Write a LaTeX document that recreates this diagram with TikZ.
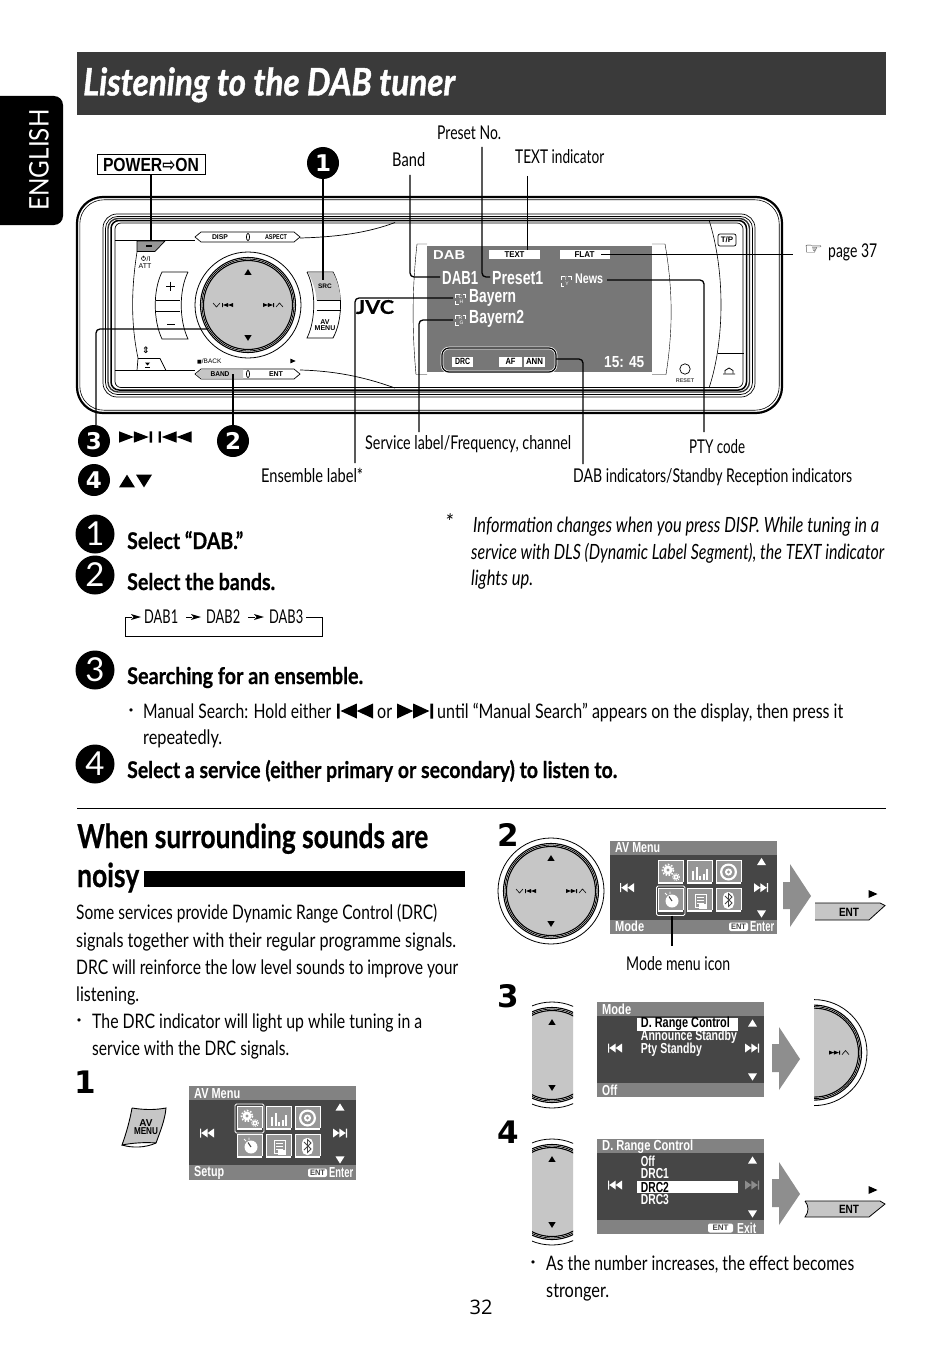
\documentclass[tikz,border=0pt]{standalone}
\usepackage{fontspec}
\usepackage{graphicx}
\setmainfont{Lato}
\newfontfamily\dsp{Liberation Sans}
\newfontfamily\sym{DejaVu Sans}
\newfontfamily\pg{Open Sans}
\newfontfamily\hv[BoldFeatures={FakeBold=0.7},BoldItalicFeatures={FakeBold=1.2}]{Lato}
\definecolor{band}{HTML}{3A3A3A}
\definecolor{scrdark}{HTML}{464646}
\definecolor{scrgray}{HTML}{828282}
\definecolor{dispgray}{HTML}{777777}
\definecolor{btn}{HTML}{C6C6C6}
\definecolor{bigarrow}{HTML}{8E8E8E}
\definecolor{icong}{HTML}{969696}
\newcommand\W[2]{\resizebox{#1pt}{\height}{#2}}
\newcommand\fs[1]{\fontsize{#1}{#1}\selectfont}
\newcommand\tup[4]{\fill[#4] ({#1-#3},{#2+0.8*#3})--({#1+#3},{#2+0.8*#3})--(#1,{#2-0.8*#3})--cycle;}
\newcommand\tdn[4]{\fill[#4] ({#1-#3},{#2-0.8*#3})--({#1+#3},{#2-0.8*#3})--(#1,{#2+0.8*#3})--cycle;}
\newcommand\trt[4]{\fill[#4] ({#1-0.9*#3},{#2-0.8*#3})--({#1+0.9*#3},#2)--({#1-0.9*#3},{#2+0.8*#3})--cycle;}
\newcommand\skipf[5]{\fill[#5] ({#1-#3},{#2-#4})--({#1-0.1*#3},#2)--({#1-#3},{#2+#4})--cycle ({#1-0.1*#3},{#2-#4})--({#1+0.8*#3},#2)--({#1-0.1*#3},{#2+#4})--cycle ({#1+0.85*#3},{#2-#4}) rectangle ({#1+#3},{#2+#4});}
\newcommand\skipb[5]{\fill[#5] ({#1+#3},{#2-#4})--({#1+0.1*#3},#2)--({#1+#3},{#2+#4})--cycle ({#1+0.1*#3},{#2-#4})--({#1-0.8*#3},#2)--({#1+0.1*#3},{#2+#4})--cycle ({#1-0.85*#3},{#2-#4}) rectangle ({#1-#3},{#2+#4});}
% dial parts: centre x, centre y
\newcommand\dialbase[2]{%
\draw[line width=.8,fill=white] (#1,#2) circle (53);
\draw[line width=1.1] (#1,#2) circle (47.5);
\draw[line width=.8] (#1,#2) circle (46);
\draw[line width=1.1,fill=btn] (#1,#2) circle (44.5);
}
\newcommand\dialud[2]{\tup{#1}{#2-33}{3.6}{black}\tdn{#1}{#2+33}{3.6}{black}}
\newcommand\diall[2]{\skipb{#1-20.5}{#2}{5.5}{2}{black}\draw[line width=.6] ({#1-35},{#2-2})--({#1-31.5},{#2+2})--({#1-28},{#2-2});}
\newcommand\dialr[2]{\skipf{#1+20.5}{#2}{5.5}{2}{black}\draw[line width=.6] ({#1+28},{#2+2})--({#1+31.5},{#2-2})--({#1+35},{#2+2});}
\newcommand\dial[2]{\dialbase{#1}{#2}\dialud{#1}{#2}\diall{#1}{#2}\dialr{#1}{#2}}
\newcommand\screen[4]{%
\fill[scrdark] (#1,#2) rectangle ++(167,#3);
\fill[scrgray] (#1,#2) rectangle ++(167,14);
\fill[scrgray] (#1,{#2+#4}) rectangle ({#1+167},{#2+#3});
}
% one icon tile
\newcommand\tile[2]{%
\fill[icong] (#1,#2) rectangle ++(25,24);
\fill[white] (#1,{#2+22.4}) rectangle ++(25,1.6);
\draw[white,line width=.5] (#1,{#2+22}) -- (#1,#2) -- ++(25,0) -- ++(0,22);
}
% icon grid: x y of screen
\newcommand\menuicons[2]{%
\begin{scope}[shift={(#1,#2)}]
\tile{48}{19}\tile{77}{19}\tile{106}{19}\tile{48}{47}\tile{77}{47}\tile{106}{47}
% gears
\fill[white] (58,29) circle (4.5); \draw[white,line width=1.6,dash pattern=on 1.6 off 1.6] (58,29) circle (5.6);
\fill[icong] (58,29) circle (1.6);
\fill[white] (66,36) circle (2.6); \draw[white,line width=1,dash pattern=on 1 off 1] (66,36) circle (3.4);
\fill[icong] (66,36) circle (1);
% eq
\fill[white] (82,30) rectangle ++(2,9); \fill[white] (85.5,26) rectangle ++(2,13);
\fill[white] (89,35) rectangle ++(2,4); \fill[white] (92.5,33) rectangle ++(2,6);
\fill[white] (96,28) rectangle ++(2,11);
% disc
\fill[white] (118.5,31) circle (8.5); \fill[icong] (118.5,31) circle (6.2);
\fill[white] (118.5,31) circle (3.6); \fill[icong] (118.5,31) circle (1.6);
% stopwatch
\fill[white] (62,60) circle (6.5); \draw[white,line width=.8] (55,52)--(57,54) (60,50.5)--(60,53);
\draw[scrdark,line width=1] (62,60)--(59,55.5);
% doc
\draw[white,line width=1] (85,53) rectangle ++(11,13);
\draw[white,line width=.7] (87,56)--(94,56) (87,59)--(94,59) (87,62)--(94,62);
\fill[white] (89,63) rectangle ++(8,5);
% bluetooth
\fill[white,rounded corners=5] (113,51) rectangle ++(11,17);
\draw[scrdark,line width=.8] (115,55)--(122,62)--(118.5,65.5)--(118.5,52.5)--(122,56)--(115,63);
\end{scope}}
\tikzset{
 txt/.style={inner sep=0pt,anchor=base west,yshift=-7pt,font=\fs{20}},
 blt/.style={inner sep=0pt,anchor=center,font=\sym\fs{11}},
 lab/.style={inner sep=0pt,anchor=base west,yshift=-6.5pt,font=\fs{19}},
 head/.style={inner sep=0pt,anchor=base west,yshift=-8pt,font=\hv\bfseries\fs{23}},
 ital/.style={inner sep=0pt,anchor=base west,yshift=-7pt,font=\itshape\fs{21}},
 bigt/.style={inner sep=0pt,anchor=base west,yshift=-11pt,font=\hv\bfseries\fs{33}},
 num/.style={circle,fill=black,text=white,minimum size=32pt,inner sep=0pt,font=\sym\bfseries\fs{23}},
 stepn/.style={circle,fill=black,text=white,minimum size=39pt,inner sep=0pt,font=\fs{33}},
 bign/.style={inner sep=0pt,font=\sym\bfseries\fs{31}},
 conn/.style={line width=1.3pt,rounded corners=4pt},
 scr/.style={inner sep=0pt,anchor=west,text=white,font=\dsp\bfseries\fs{14.5}},
 dtx/.style={inner sep=0pt,anchor=west,text=white,font=\dsp\bfseries\fs{19}},
 ctl/.style={inner sep=0pt,font=\dsp\bfseries\fs{7}},
 lit/.style={inner sep=0pt,font=\dsp\bfseries\fs{6.5}},
 frame/.style={line width=.7pt},
}
\newcommand\brk[4]{%
\draw[white,line width=.5] ({#1-5},{#2-1})--({#1-5},{#2-5})--({#1-1},{#2-5}) ({#1+2},{#2-5})--({#1+5},{#2-5})--({#1+5},{#2-1}) ({#1-5},{#2+2})--({#1-5},{#2+5})--({#1-2},{#2+5});
\node[lit,text=white,font=\dsp\fs{5}] (#3-a) at (#1,{#2-2}) {#3};
\node[lit,text=white,font=\dsp\fs{5}] (#3-b) at ({#1+1},{#2+3}) {#4};
}
\begin{document}
\begin{tikzpicture}[x=1pt,y=-1pt]
\useasboundingbox (0,0) rectangle (950,1351);
\fill[white] (0,0) rectangle (950,1351);
% side tab & title
\fill[black,rounded corners=9] (-20,96) rectangle (63,225);
\node[inner sep=0pt,text=white,rotate=90,font=\fs{27}] (tab) at (39,160) {\W{101}{ENGLISH}};
\fill[band] (77,52) rectangle (886,115);
\node[inner sep=0pt,anchor=base west,text=white,font=\hv\bfseries\itshape\fs{38}] (title) at (83,95.5) {\W{372}{Listening to the DAB tuner}};
% head unit
\draw[line width=2.2,rounded corners=26] (77,197) rectangle (782,413);
\draw[line width=.6,rounded corners=24] (79.8,199.8) rectangle (779.2,410.2);
\draw[frame,rounded corners=14] (103,214) rectangle (755,397);
\draw[frame,rounded corners=12] (105.5,216.5) rectangle (752.5,394.5);
\draw[line width=1.4,rounded corners=10,draw=black!80] (108,218.5) rectangle (749.5,392);
\draw[line width=1.5,rounded corners=8] (111,220.5) rectangle (746.5,390);
\draw[frame,rounded corners=6] (115,223) rectangle (743,387.5);
% faceplate lines
\draw[frame] (115,240)--(195,240) (115,370.5)--(195,370.5);
\draw[frame] (300,238) .. controls (340,237) and (370,232) .. (395,222.5);
\draw[frame] (300,370) .. controls (340,371) and (370,379) .. (395,388);
\draw[line width=.6] (137,252) .. controls (131,290) and (131,325) .. (138,358);
% power, eject
\draw[frame,fill=icong] (137,241)--(165,241)--(155,251.5)--(137,251.5)--cycle;
\fill (146,244.5) rectangle (152,246.5);
\draw[frame,fill=white] (138,358.5)--(160,358.5)--(166,370.5)--(137,370.5)--cycle;
\fill (145,362.5)--(150,362.5)--(147.5,365.5)--cycle; \fill (145,366.5) rectangle (150,367.8);
\draw[line width=.5] (143.5,258.5) circle (2) (143.5,255.5)--(143.5,258);
\node[ctl,font=\dsp\fs{7}] (pwi) at (148.5,258.5) {/I};
\node[ctl,font=\dsp\fs{7}] (att) at (145,266) {ATT};
\node[inner sep=0,font=\sym\bfseries\fs{9}] (sw) at (146,350) {⇕};
% DISP & BAND bars
\draw[frame,fill=white] (195,237)--(201,232)--(294,232)--(300,237)--(294,242)--(201,242)--cycle;
\node[ctl] (disp) at (220,237) {\W{16}{DISP}};
\node[ctl] (aspect) at (276,237) {\W{22}{ASPECT}};
\draw[frame] (248,237) ellipse (1.6 and 3.6);
\draw[frame,fill=white] (195,374)--(201,369)--(294,369)--(300,374)--(294,379)--(201,379)--cycle;
\fill[btn] (196,374)--(201.5,369.5)--(243,369.5)--(243,378.5)--(201.5,378.5)--cycle;
\draw[frame] (248,374) ellipse (1.6 and 3.6);
\node[ctl] (bandb) at (220,374) {\W{19}{BAND}};
\node[ctl] (entb) at (276,374) {\W{14}{ENT}};
\node[ctl,anchor=west] (back) at (197,361) {\sym\fs{5}■\dsp\mdseries\fs{6.5}/BACK};
\trt{293}{361}{3}{black}
% +/- rocker
\draw[frame,fill=white] (188,272)--(162,272) .. controls (153,290) and (153,320) .. (162,339)--(188,339) .. controls (179,320) and (179,290) .. (188,272);
\draw[line width=.4] (156,300)--(180,300) (156,311)--(180,311);
\draw[line width=.8] (166,286)--(175,286) (170.5,281.5)--(170.5,290.5);
\draw[line width=.7] (167,324)--(175,324);
% dial
\dial{248}{305}
% SRC rocker
\draw[frame,fill=white] (307,272)--(333,272) .. controls (343,290) and (343,320) .. (333,338)--(307,338) .. controls (316,320) and (316,290) .. (307,272);
\fill[btn] (308,272.5)--(333,272.5) .. controls (338,282) and (340,290) .. (340.5,300)--(316.5,300) .. controls (316,290) and (313,282) .. (308,272.5);
\draw[line width=.4] (316.5,300)--(340.5,300) (316.5,310)--(340.5,310);
\node[lit] (src) at (325,286) {SRC};
\node[lit,align=center,font=\dsp\bfseries\fs{7}] (avm) at (325,325) {AV\\[-1pt]MENU};
% JVC
\node[inner sep=0pt,font=\hv\bfseries\fs{19}] (jvc) at (375,307) {\W{38}{JVC}};
% display
\draw[line width=.4] (427,244)--(417,244) .. controls (412,290) and (412,330) .. (416,374.5)--(427,374.5);
\draw[line width=.4] (652,244)--(665,244) .. controls (673,290) and (673,330) .. (666,374.5)--(652,374.5);
\fill[dispgray] (427,246) rectangle (652,372);
\node[dtx,font=\dsp\bfseries\fs{13}] (dab) at (433,255) {\W{32}{DAB}};
\fill[white] (489,250) rectangle (540,259);
\fill[white] (560,250) rectangle (610,259);
\node[lit,font=\dsp\bfseries\fs{8.5}] (ti) at (514.5,254.8) {\W{20}{TEXT}};
\node[lit,font=\dsp\bfseries\fs{8.5}] (fl) at (584.5,254.8) {\W{20}{FLAT}};
\node[dtx] (dab1) at (442,278) {\W{36}{DAB1}};
\node[dtx] (pre1) at (492,278) {\W{51}{Preset1}};
\node[dtx,font=\dsp\bfseries\fs{14}] (news) at (575,279) {\W{28}{News}};
\node[dtx] (bay1) at (469,298) {\W{47}{Bayern}};
\node[dtx] (bay2) at (469,319) {\W{55}{Bayern2}};
\brk{566}{281}{T}{Y}
\brk{460.5}{299}{C}{H}
\brk{460.5}{320}{R}{G}
\fill[white] (452,357) rectangle (473,366.5);
\fill[white] (499,357) rectangle (522,366.5);
\fill[white] (524,357) rectangle (545,366.5);
\node[lit,font=\dsp\bfseries\fs{9}] (drc) at (462.5,361.8) {\W{15}{DRC}};
\node[lit,font=\dsp\bfseries\fs{9}] (af) at (510.5,361.8) {\W{10}{AF}};
\node[lit,font=\dsp\bfseries\fs{9}] (ann) at (534.5,361.8) {\W{17}{ANN}};
\node[dtx,font=\dsp\bfseries\fs{16}] (clk) at (604,362) {\W{40}{15: 45}};
\draw[white,line width=2.6,rounded corners=7] (442,348) rectangle (556,372);
\draw[line width=1.2,rounded corners=7] (442,348) rectangle (556,372);
% right side
\draw[line width=.6] (709,220) .. controls (725,270) and (725,340) .. (709,388);
\draw[line width=.6] (718,353)--(744,353);
\draw[frame,rounded corners=2] (718,234) rectangle (736,246);
\node[lit,font=\dsp\bfseries\fs{8}] (tp) at (727,240) {T/P};
\draw[frame] (685,369) circle (5.2);
\node[lit,font=\dsp\bfseries\fs{5.5},text=black!70] (rst) at (685,380.5) {RESET};
\draw[line width=.8] (723,374)--(735,374) (725,373)--(725,370.5)--(729,368)--(733,370.5)--(733,373);
% connectors
\node[draw,line width=1pt,inner sep=0pt,minimum width=108pt,minimum height=20pt] (pw) at (151,165) {\W{96}{\dsp\bfseries\fs{19}POWER{\sym ⇨}ON}};
\node[num] (n1) at (323,163) {1};
\node[num] (n3) at (94,441) {3};
\node[num] (n2) at (233,441) {2};
\node[num] (n4) at (94,480) {4};
\coordinate (cPw) at (151,240); \coordinate (cSrc) at (323,280);
\coordinate (cBandT) at (410,175); \coordinate (cBandE) at (440,277);
\coordinate (cPreT) at (482,147); \coordinate (cPreE) at (490,277);
\coordinate (cTxtT) at (527.5,176); \coordinate (cTxtE) at (527.5,250);
\coordinate (cFlat) at (601,254.5); \coordinate (cPage) at (793,254.5);
\coordinate (cNews) at (607,280); \coordinate (cPty) at (704,432);
\coordinate (cEnsB) at (355,463); \coordinate (cEnsE) at (453,298);
\coordinate (cSvcB) at (419,432); \coordinate (cSvcE) at (453,320);
\coordinate (cIndS) at (556,359); \coordinate (cIndB) at (583,464);
\coordinate (cN3s) at (96,425); \coordinate (cDial) at (208,329);
\coordinate (cN2e) at (233,374);
\draw[conn] (pw.south) -- (cPw);
\draw[conn] (n1.south) -- (cSrc);
\draw[conn] (cBandT) |- (cBandE);
\draw[conn] (cPreT) |- (cPreE);
\draw[conn] (cTxtT) -- (cTxtE);
\draw[conn] (cFlat) -- (cPage);
\draw[conn] (cNews) -| (cPty);
\draw[conn] (cEnsB) |- (cEnsE);
\draw[conn] (cSvcB) |- (cSvcE);
\draw[conn] (cIndS) -| (cIndB);
\draw[conn] (cN3s) |- (cDial);
\draw[conn] (n2.north) -- (cN2e);
% callout labels
\node[lab] (lPre) at (437,133) {\W{64}{Preset No.}};
\node[lab] (lBand) at (392,160) {\W{33}{Band}};
\node[lab] (lTxt) at (515,157) {\W{89}{TEXT indicator}};
\node[inner sep=0,anchor=west,font=\sym\bfseries\fs{16}] (lHand) at (804,250) {\W{19}{☞}};
\node[lab] (lPage) at (828,251) {\W{49}{page 37}};
\node[lab] (lSvc) at (365,443) {\W{206}{Service label/Frequency, channel}};
\node[lab] (lPty) at (689,447) {\W{56}{PTY code}};
\node[lab] (lEns) at (261,476) {\W{102}{Ensemble label*}};
\node[lab] (lInd) at (573,476) {\W{279}{DAB indicators/Standby Reception indicators}};
\skipf{135.5}{437}{16.5}{5.7}{black}
\skipb{175}{437}{16.5}{5.7}{black}
\tup{127}{481}{8}{black}
\tdn{144}{481}{8}{black}
% steps
\node[stepn] (s1) at (95,534) {1};
\node[stepn] (s2) at (95,575) {2};
\node[stepn] (s3) at (95,670) {3};
\node[stepn] (s4) at (95,764) {4};
\node[head] (h1) at (127,541) {\W{116}{Select “DAB.”}};
\node[head] (h2) at (127,582) {\W{148}{Select the bands.}};
\node[head] (h3) at (127,676) {\W{236}{Searching for an ensemble.}};
\node[head] (h4) at (127,770) {\W{490}{Select a service (either primary or secondary) to listen to.}};
\node[lab] (d1) at (144,617) {\W{34}{DAB1}};
\node[lab] (d2) at (206,617) {\W{34}{DAB2}};
\node[lab] (d3) at (269,617) {\W{34}{DAB3}};
\tikzset{cyc/.style={line width=.7pt}}
\draw[cyc] (306,617) -- (322,617) -- (322,636) -- (125,636) -- (125,617) -- (132,617);
\fill (131,614)--(141,617)--(131,620)--(133.5,617)--cycle;
\draw[cyc] (186,617)--(192,617); \fill (191,614)--(201,617)--(191,620)--(193.5,617)--cycle;
\draw[cyc] (248,617)--(255,617); \fill (254,614)--(264,617)--(254,620)--(256.5,617)--cycle;
\node[blt] (bu1) at (131,712) {•};
\node[txt] (m1) at (143,711) {\W{188}{Manual Search: Hold either}};
\skipb{355}{711}{18}{7.5}{black}
\node[txt] (m2) at (377,711) {\W{15}{or}};
\skipf{415}{711}{18}{7.5}{black}
\node[txt] (m3) at (437,711) {\W{406}{until “Manual Search” appears on the display, then press it}};
\node[txt] (m4) at (143,737) {\W{79}{repeatedly.}};
% footnote
\node[ital] (st) at (445,522) {*};
\node[ital] (f1) at (473,525) {\W{406}{Information changes when you press DISP. While tuning in a}};
\node[ital] (f2) at (471,552) {\W{413}{service with DLS (Dynamic Label Segment), the TEXT indicator}};
\node[ital] (f3) at (471,578) {\W{62}{lights up.}};
\draw[line width=1] (77,808)--(886,808);
% lower left
\node[bigt] (t1) at (77,837) {\W{351}{When surrounding sounds are}};
\node[bigt] (t2) at (77,876) {\W{62}{noisy}};
\fill (144,871) rectangle (465,887);
\node[txt] (b1) at (76,912) {\W{361}{Some services provide Dynamic Range Control (DRC)}};
\node[txt] (b2) at (76,940) {\W{380}{signals together with their regular programme signals.}};
\node[txt] (b3) at (76,967) {\W{382}{DRC will reinforce the low level sounds to improve your}};
\node[txt] (b4) at (76,994) {\W{63}{listening.}};
\node[blt] (bu2) at (79,1022) {•};
\node[txt] (b5) at (92,1021) {\W{330}{The DRC indicator will light up while tuning in a}};
\node[txt] (b6) at (92,1048) {\W{197}{service with the DRC signals.}};
\node[bign] (c1) at (85,1082) {1};
% AV MENU button
\draw[line width=.9,fill=btn] (132,1108) .. controls (145,1110) and (155,1110) .. (166,1108) .. controls (165,1120) and (160,1132) .. (156,1143) .. controls (145,1142) and (132,1143) .. (122,1145) .. controls (126,1134) and (130,1120) .. (132,1108);
\draw[line width=.9] (122,1145) .. controls (132,1148) and (145,1148) .. (156,1143);
\node[lit,align=center,font=\dsp\bfseries\fs{10}] (avb) at (146,1127) {AV\\[-2pt]\W{24}{MENU}};
% screen A
\screen{189}{1086}{94}{79}
\menuicons{189}{1087}
\draw[white,line width=.9,rounded corners=1.5] (235,1104) rectangle (264,1133);
\node[scr] (a1) at (194,1094) {\W{46}{AV Menu}};
\node[scr] (a2) at (194,1172.5) {\W{30}{Setup}};
\fill[white,rounded corners=2] (308,1168.5) rectangle (327,1177);
\node[lit,text=scrdark,font=\dsp\bfseries\fs{8}] (a3) at (317.5,1173) {\W{15}{ENT}};
\node[scr] (a4) at (329,1172.5) {\W{24}{Enter}};
\skipb{207}{1133}{7}{4.5}{white}
\skipf{340}{1133}{7}{4.5}{white}
\tup{340}{1107}{4.5}{white}
\tdn{340}{1160}{4.5}{white}
% right column
\node[bign] (c2) at (508,835) {2};
\node[bign] (c3) at (508,996) {3};
\node[bign] (c4) at (508,1132) {4};
\dial{551}{891}
\screen{610}{841}{93}{79}
\menuicons{610}{841}
\draw[white,line width=.9,rounded corners=1.5] (656.5,886) rectangle (685,915.5);
\node[scr] (e1) at (615,848) {\W{45}{AV Menu}};
\node[scr] (e2) at (615,926) {\W{29}{Mode}};
\fill[white,rounded corners=2] (729,922.5) rectangle (748,931);
\node[lit,text=scrdark,font=\dsp\bfseries\fs{8}] (e3) at (738.5,927) {\W{15}{ENT}};
\node[scr] (e4) at (750,926.5) {\W{24}{Enter}};
\skipb{627}{887.7}{7}{4.5}{white}
\skipf{761}{887.7}{7}{4.5}{white}
\tup{761.5}{861.5}{4.5}{white}
\tdn{761.5}{914}{4.5}{white}
\coordinate (cMode) at (672,915.5); \coordinate (cModeB) at (672,946);
\draw[conn] (cMode) -- (cModeB);
\node[lab] (lMode) at (626,964) {\W{104}{Mode menu icon}};
% big arrows
\fill[bigarrow] (783,882)--(790,882)--(790,864)--(811,896)--(790,927)--(790,909)--(783,909)--cycle;
\fill[bigarrow] (772,1044)--(779,1044)--(779,1027)--(800,1059)--(779,1090)--(779,1072)--(772,1072)--cycle;
\fill[bigarrow] (772,1179)--(779,1179)--(779,1162)--(800,1194)--(779,1225)--(779,1207)--(772,1207)--cycle;
% ENT buttons
\draw[line width=.8,fill=btn] (815,903)--(880,903)--(885,905.5)--(869,920)--(815,920);
\node[lit,font=\dsp\bfseries\fs{12}] (ent1) at (849,912) {\W{20}{ENT}};
\trt{873}{894}{5}{black}
\draw[line width=.8,fill=btn] (805,1201)--(880,1201)--(885,1204)--(869,1217)--(805,1217) .. controls (809,1212) and (809,1206) .. (805,1201);
\node[lit,font=\dsp\bfseries\fs{12}] (ent2) at (849,1209) {\W{20}{ENT}};
\trt{873}{1190}{5}{black}
% partial dials
\begin{scope}
\clip (532,995) rectangle (573,1115);
\dialbase{552}{1055}\dialud{552}{1055}
\end{scope}
\begin{scope}
\clip (532,1132) rectangle (573,1252);
\dialbase{552}{1192}\dialud{552}{1192}
\end{scope}
\begin{scope}
\clip (814,990) rectangle (875,1115);
\dialbase{814}{1052.6}\dialr{814}{1052.6}
\end{scope}
% screen C
\screen{597}{1002}{95}{81}
\node[scr] (f0) at (602,1009) {\W{29}{Mode}};
\fill[white] (637,1018) rectangle (738,1031);
\node[scr,text=black] (f4) at (640.7,1024) {\W{89}{D. Range Control}};
\node[scr] (f5) at (640.7,1037) {\W{96}{Announce Standby}};
\node[scr] (f6) at (640.7,1050) {\W{61}{Pty Standby}};
\node[scr] (f7) at (602,1090) {\W{15}{Off}};
\skipb{615}{1048}{7}{4.5}{white}
\skipf{752}{1048}{7}{4.5}{white}
\tup{752.5}{1023}{4.5}{white}
\tdn{752.5}{1077}{4.5}{white}
% screen D
\screen{597}{1139}{95}{81}
\node[scr] (g0) at (602,1147) {\W{91}{D. Range Control}};
\fill[white] (637,1180.7) rectangle (738,1193.3);
\node[scr] (g1) at (640.7,1161) {\W{14}{Off}};
\node[scr] (g2) at (640.7,1173.5) {\W{28}{DRC1}};
\node[scr,text=black] (g3) at (640.7,1187) {\W{28}{DRC2}};
\node[scr] (g4) at (640.7,1200) {\W{28}{DRC3}};
\fill[white,rounded corners=2] (708,1223.5) rectangle (733,1232.5);
\node[lit,text=scrdark,font=\dsp\bfseries\fs{8}] (g5) at (720.5,1228) {\W{16}{ENT}};
\node[scr] (g6) at (737,1228) {\W{19}{Exit}};
\skipb{615}{1185}{7}{4.5}{white}
\skipf{752}{1185}{7}{4.5}{black!45}
\tup{752.5}{1160}{4.5}{white}
\tdn{752.5}{1214}{4.5}{white}
% closing text
\node[blt] (bu3) at (533,1264) {•};
\node[txt] (z1) at (546,1263) {\W{308}{As the number increases, the effect becomes}};
\node[txt] (z2) at (546,1290) {\W{63}{stronger.}};
\node[inner sep=0pt,font=\pg\fs{20}] (pn) at (481,1307) {32};
\end{tikzpicture}
\end{document}
